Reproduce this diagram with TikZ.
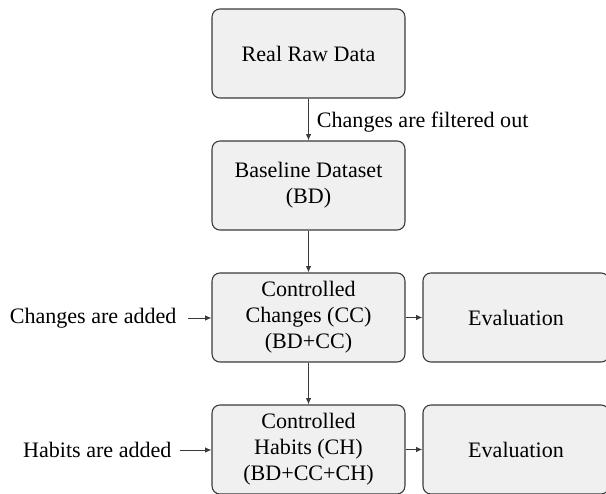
\documentclass[tikz,border=0pt]{standalone}
\usepackage{fontspec}
\setmainfont{Liberation Serif}
\usetikzlibrary{arrows.meta}
\definecolor{boxfill}{HTML}{F0F0F0}
\definecolor{boxline}{HTML}{3A3A3A}
\tikzset{
  stage/.style={draw=boxline, fill=boxfill, line width=0.45pt, rounded corners=3.3pt,
    minimum width=80.4pt, minimum height=37.1pt, inner sep=0pt, align=center,
    font=\fontsize{9.2}{10.8}\selectfont},
  flow/.style={draw=boxline, line width=0.4pt, -{Latex[length=2.6pt,width=2.2pt]}},
  note/.style={inner sep=0pt, font=\fontsize{9.2}{10.8}\selectfont}
}
\begin{document}
\begin{tikzpicture}[x=0.4167pt, y=-0.4167pt]
\useasboundingbox (0,0) rectangle (606,494);
% main pipeline
\node[stage] (raw)  at (308.5,53.5)  {Real Raw Data};
\node[stage] (base) at (308.5,185.5) {Baseline Dataset\\(BD)};
\node[stage] (cc)   at (308.5,317.5) {Controlled\\Changes (CC)\\(BD+CC)};
\node[stage] (ch)   at (308.5,449.5) {Controlled\\Habits (CH)\\(BD+CC+CH)};
% evaluation boxes
\node[stage, minimum width=77.5pt] (ev1) at (516,317.5) {Evaluation};
\node[stage, minimum width=77.5pt] (ev2) at (516,449.5) {Evaluation};
% side inputs
\node[note, anchor=east] (addcc) at (177,318) {Changes are added};
\node[note, anchor=east] (addch) at (172,450) {Habits are added};
% connectors
\draw[flow] (raw) -- node[note, right, inner sep=3.3pt, yshift=-1pt] {Changes are filtered out} (base);
\draw[flow] (base) -- (cc);
\draw[flow] (cc) -- (ch);
\draw[flow] (cc) -- (ev1);
\draw[flow] (ch) -- (ev2);
\draw[flow, shorten <=4.6pt] (addcc) -- (addcc -| cc.west);
\draw[flow, shorten <=3.3pt] (addch) -- (addch -| ch.west);
\end{tikzpicture}
\end{document}
